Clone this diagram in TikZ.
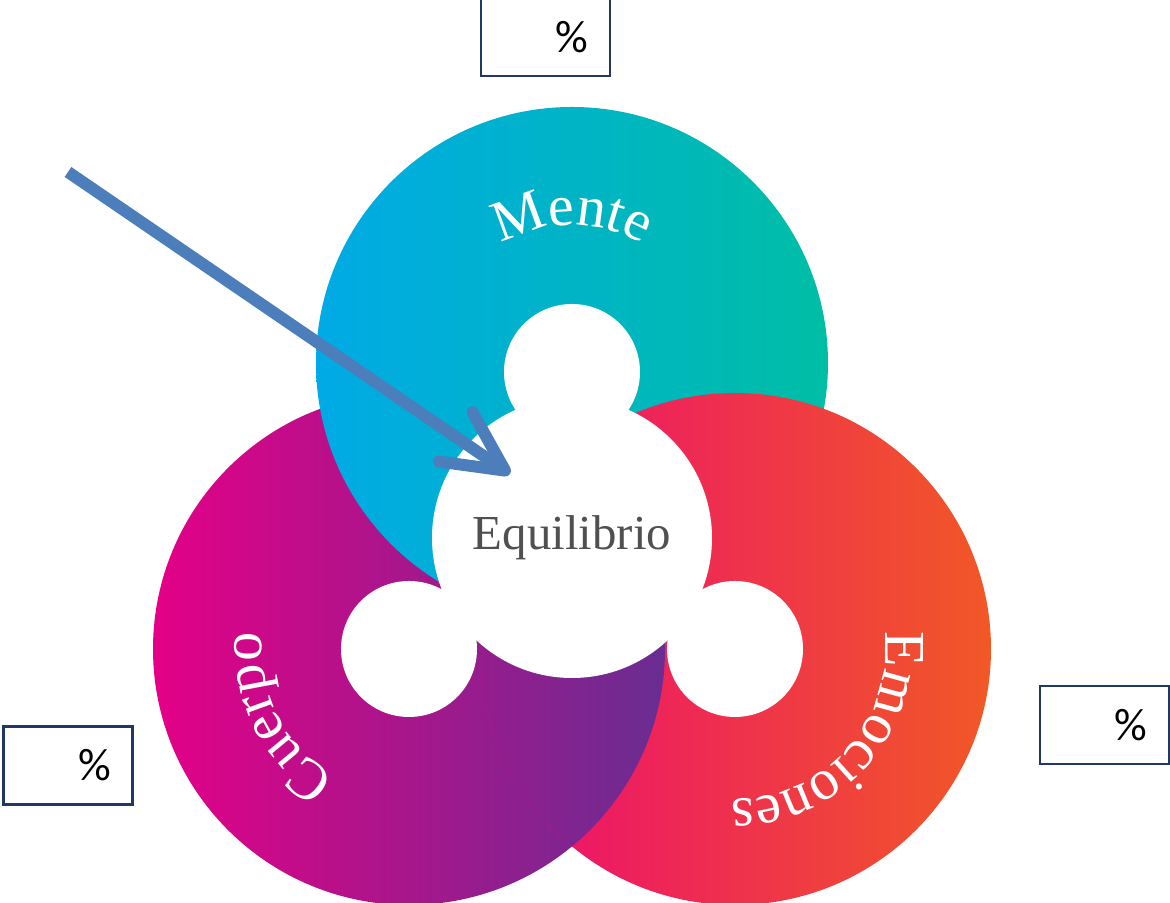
\documentclass[tikz,border=0pt]{standalone}
\usepackage{fontspec}
\setmainfont{Liberation Serif}
\newfontfamily\pctfamily{Carlito}
\usepackage{tikz}
\usetikzlibrary{arrows.meta, calc, positioning, decorations.text}

\definecolor{menteleft}{RGB}{0,170,230}
\definecolor{menteright}{RGB}{0,190,165}
\definecolor{cuerpoleft}{RGB}{228,0,135}
\definecolor{cuerporight}{RGB}{105,45,145}
\definecolor{emocleft}{RGB}{236,10,115}
\definecolor{emocright}{RGB}{241,88,38}
\definecolor{boxnavy}{RGB}{31,56,100}
\definecolor{arrowblue}{RGB}{76,126,187}
\definecolor{equigray}{RGB}{80,80,80}

\newcommand{\ringfont}{\fontsize{16.5}{16.5}\selectfont}

\tikzset{
    pctbox/.style={draw=boxnavy, line width=0.8pt, fill=white, minimum width=12.9mm, minimum height=7.8mm, text width=8.6mm, align=right, inner sep=0pt, font=\pctfamily\fontsize{13}{13}\selectfont},
    ringtext/.style={decorate, decoration={text along path, text align=center, text color=white, text={|\ringfont|#1}}}
}

\begin{document}
\begin{tikzpicture}[x=0.1mm, y=0.1mm]
    \clip (0,0) rectangle (1170,903);

    \coordinate (mente) at (572,540);
    \coordinate (cuerpo) at (409,254);
    \coordinate (emociones) at (735,254);

    \shade[left color=cuerpoleft, right color=cuerporight] (cuerpo) circle (25.6mm);
    \shade[left color=menteleft, right color=menteright] (mente) circle (25.6mm);
    \shade[left color=emocleft, right color=emocright] (emociones) circle (25.6mm);
    \begin{scope}
        \clip (emociones) circle (25.6mm);
        \shade[left color=cuerpoleft, right color=cuerporight] (cuerpo) circle (25.6mm);
    \end{scope}

    \fill[white] ($(mente) + (0,-9)$) circle (6.8mm);
    \fill[white] (cuerpo) circle (6.8mm);
    \fill[white] (emociones) circle (6.8mm);
    \node[circle, fill=white, minimum size=28mm, inner sep=0pt, text=equigray, font=\fontsize{13.9}{14}\selectfont] (equilibrio) at (572,365) {Equilibrio};

    \path[ringtext=Mente] ($(mente) + (170:13.8mm)$) arc[start angle=170, end angle=10, radius=13.8mm];
    \path[ringtext=Cuerpo] ($(cuerpo) + (257:14.7mm)$) arc[start angle=257, end angle=157, radius=14.7mm];
    \path[ringtext=Emociones] ($(emociones) + (37.5:15mm)$) arc[start angle=37.5, end angle=-122.5, radius=15mm];

    \coordinate (arrowtail) at (68,731);
    \coordinate (arrowtip) at (510,429);
    \draw[arrowblue, line width=3.4pt, -{Straight Barb[length=17pt, width=17pt, round]}] (arrowtail) -- (arrowtip);

    \node[pctbox] (pctmente) at (545.5,866) {\%};
    \node[pctbox] (pctcuerpo) at (68,137.5) {\%};
    \node[pctbox] (pctemociones) at (1104.5,178) {\%};
\end{tikzpicture}
\end{document}
